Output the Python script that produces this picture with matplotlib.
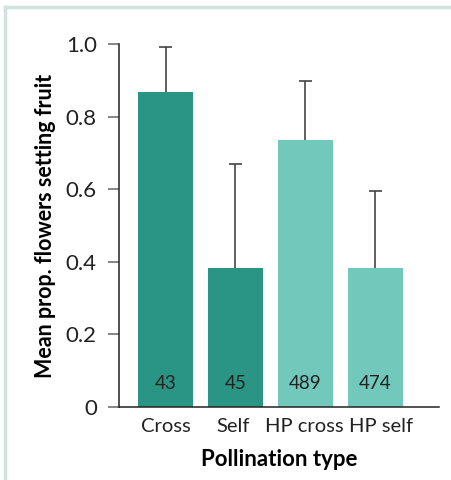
import matplotlib
matplotlib.use("Agg")
import matplotlib.pyplot as plt
from matplotlib.lines import Line2D

# data
categories = ["Cross", "Self", "HP cross", "HP self"]
means = [0.868, 0.383, 0.736, 0.383]
err_up = [0.124, 0.286, 0.162, 0.212]
counts = ["43", "45", "489", "474"]
colors = ["#2a9485", "#2a9485", "#72c9bb", "#72c9bb"]

plt.rcParams['font.family'] = ['Lato', 'DejaVu Sans']

fig = plt.figure(figsize=(4.51, 4.80), dpi=100)
ax = fig.add_axes([0.264, 0.152, 0.709, 0.756])

x = list(range(len(categories)))
ax.bar(x, means, width=0.786, color=colors, zorder=2)
# upper error bars only (stem + cap)
tops = [m + e for m, e in zip(means, err_up)]
ax.vlines(x, means, tops, color="#444444", lw=1.2, zorder=1)
ax.hlines(tops, [i - 0.09 for i in x], [i + 0.09 for i in x],
          color="#444444", lw=1.2, zorder=1)

for i, n in enumerate(counts):
    ax.text(i, 0.066, n, ha="center", va="center", fontsize=13.5, color="#222222")

ax.set_xlim(-0.664, 3.907)
ax.set_ylim(0, 1.0)
ax.set_yticks([0, 0.2, 0.4, 0.6, 0.8, 1.0])
ax.set_yticklabels(["0", "0.2", "0.4", "0.6", "0.8", "1.0"])
# labels are nudged a bit in the reference so the last two don't touch
ax.set_xticks([0, 0.97, 1.98, 3.08])
ax.set_xticklabels(categories)

for s in ["top", "right"]:
    ax.spines[s].set_visible(False)
ax.spines["left"].set_color("#222222")
ax.spines["bottom"].set_color("#222222")
ax.spines["left"].set_linewidth(1.1)
ax.spines["bottom"].set_linewidth(1.1)
ax.tick_params(axis="y", length=8, width=1.1, color="#666666", labelsize=16,
               labelcolor="#222222", pad=8)
ax.tick_params(axis="x", length=0, labelsize=14.5, labelcolor="#222222", pad=8)

ax.set_xlabel("Pollination type", fontsize=16, fontweight="bold", labelpad=10)
ax.set_ylabel("Mean prop. flowers setting fruit", fontsize=15.5, fontweight="bold",
              labelpad=7)

# light frame lines along the top and left edge
fig.add_artist(Line2D([5 / 451, 1], [1 - 7 / 480, 1 - 7 / 480],
                      transform=fig.transFigure, color="#cfe3df", lw=2.5))
fig.add_artist(Line2D([5 / 451, 5 / 451], [0, 1 - 7 / 480],
                      transform=fig.transFigure, color="#cfe3df", lw=2.5))

fig.savefig("out.png", dpi=100)
